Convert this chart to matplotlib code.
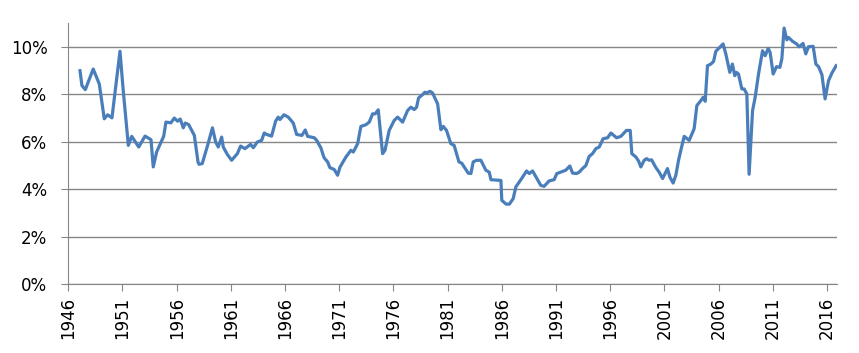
import matplotlib
import matplotlib.pyplot as plt
import matplotlib.ticker as mtick

matplotlib.use("Agg")

# values (year as decimal, rate in %)
years = [
    1947.08, 1947.26, 1947.57, 1948.3, 1948.86, 1949.32, 1949.63, 1950.03, 1950.77, 1951.07,
    1951.54, 1951.85, 1952.5, 1953.08, 1953.63, 1953.84, 1954.15, 1954.8, 1955.01, 1955.47,
    1955.78, 1956.09, 1956.33, 1956.61, 1956.8, 1957.1, 1957.63, 1957.97, 1958.06, 1958.36,
    1958.9, 1959.3, 1959.6, 1959.84, 1960.15, 1960.3, 1960.67, 1961.07, 1961.6, 1961.9,
    1962.3, 1962.82, 1963.07, 1963.44, 1963.84, 1964.08, 1964.3, 1964.76, 1965.13, 1965.37,
    1965.53, 1965.9, 1966.3, 1966.76, 1967.07, 1967.56, 1967.87, 1968.08, 1968.7, 1968.92,
    1969.3, 1969.6, 1969.93, 1970.14, 1970.54, 1970.85, 1971.07, 1971.62, 1972.08, 1972.3,
    1972.7, 1973.0, 1973.46, 1973.77, 1974.08, 1974.32, 1974.6, 1975.0, 1975.22, 1975.61,
    1976.07, 1976.39, 1976.85, 1977.31, 1977.61, 1977.92, 1978.14, 1978.32, 1978.69, 1978.9,
    1979.09, 1979.37, 1979.61, 1980.08, 1980.38, 1980.6, 1980.9, 1981.3, 1981.6, 1981.92,
    1982.05, 1982.3, 1982.9, 1983.15, 1983.36, 1983.67, 1984.07, 1984.53, 1984.84, 1985.0,
    1985.92, 1986.0, 1986.4, 1986.7, 1987.05, 1987.3, 1987.76, 1988.29, 1988.53, 1988.84,
    1989.3, 1989.6, 1989.9, 1990.37, 1990.83, 1991.08, 1991.61, 1991.9, 1992.28, 1992.53,
    1992.9, 1993.14, 1993.45, 1993.76, 1994.06, 1994.37, 1994.68, 1994.99, 1995.35, 1995.76,
    1996.07, 1996.59, 1996.99, 1997.5, 1997.85, 1998.0, 1998.37, 1998.62, 1998.83, 1999.14,
    1999.36, 1999.6, 1999.82, 2000.22, 2000.52, 2000.84, 2001.29, 2001.51, 2001.81, 2002.06,
    2002.31, 2002.52, 2002.83, 2003.29, 2003.75, 2004.0, 2004.37, 2004.58, 2004.77, 2004.98,
    2005.29, 2005.54, 2005.75, 2006.06, 2006.42, 2006.67, 2007.04, 2007.28, 2007.5, 2007.65,
    2007.84, 2008.15, 2008.36, 2008.61, 2008.82, 2009.14, 2009.38, 2009.69, 2010.06, 2010.3,
    2010.58, 2010.76, 2011.04, 2011.35, 2011.66, 2011.84, 2012.05, 2012.3, 2012.46, 2012.83,
    2013.2, 2013.44, 2013.8, 2014.05, 2014.3, 2014.73, 2014.98, 2015.23, 2015.54, 2015.83,
    2016.15, 2016.45, 2016.85,
]
rates = [
    9.0, 8.37, 8.2, 9.07, 8.44, 6.97, 7.14, 7.01, 9.82, 8.16,
    5.85, 6.23, 5.78, 6.24, 6.09, 4.94, 5.57, 6.23, 6.83, 6.8,
    7.0, 6.87, 6.96, 6.59, 6.79, 6.73, 6.27, 5.15, 5.05, 5.08,
    5.92, 6.59, 5.99, 5.78, 6.2, 5.78, 5.47, 5.22, 5.5, 5.82,
    5.71, 5.89, 5.75, 5.99, 6.06, 6.37, 6.31, 6.24, 6.87, 7.04,
    6.94, 7.14, 7.04, 6.79, 6.31, 6.27, 6.5, 6.23, 6.17, 6.06,
    5.75, 5.33, 5.15, 4.91, 4.83, 4.59, 4.93, 5.36, 5.64, 5.57,
    5.92, 6.65, 6.72, 6.83, 7.18, 7.18, 7.35, 5.5, 5.64, 6.48,
    6.9, 7.04, 6.83, 7.32, 7.46, 7.36, 7.46, 7.85, 7.99, 8.09,
    8.06, 8.13, 8.06, 7.6, 6.51, 6.65, 6.48, 5.92, 5.85, 5.36,
    5.15, 5.1, 4.68, 4.66, 5.15, 5.22, 5.22, 4.8, 4.72, 4.4,
    4.37, 3.53, 3.37, 3.37, 3.6, 4.1, 4.4, 4.77, 4.66, 4.77,
    4.4, 4.16, 4.12, 4.35, 4.4, 4.66, 4.75, 4.8, 4.98, 4.68,
    4.66, 4.72, 4.87, 5.0, 5.38, 5.5, 5.71, 5.78, 6.13, 6.17,
    6.37, 6.17, 6.23, 6.48, 6.48, 5.5, 5.36, 5.19, 4.94, 5.22,
    5.29, 5.22, 5.24, 4.91, 4.72, 4.45, 4.87, 4.51, 4.26, 4.59,
    5.22, 5.64, 6.23, 6.06, 6.55, 7.53, 7.74, 7.88, 7.71, 9.21,
    9.28, 9.39, 9.82, 9.96, 10.13, 9.71, 8.93, 9.28, 8.79, 8.93,
    8.86, 8.23, 8.23, 8.02, 4.63, 7.32, 7.88, 8.86, 9.84, 9.63,
    9.94, 9.77, 8.86, 9.17, 9.14, 9.5, 10.8, 10.3, 10.4, 10.24,
    10.13, 10.01, 10.15, 9.71, 10.01, 10.03, 9.28, 9.17, 8.83, 7.81,
    8.58, 8.89, 9.21,
]
tick_years = list(range(1946, 2017, 5))

fig = plt.figure(figsize=(8.59, 3.53), dpi=100)
ax = fig.add_axes([0.0795, 0.1955, 0.8945, 0.7385])

ax.plot(years, [r / 100 for r in rates], color="#4A7EBB", linewidth=2.3)

ax.set_xlim(1946, 2016.9)
ax.set_ylim(0, 0.11)
ax.set_xticks(tick_years)
ax.set_xticklabels([str(t) for t in tick_years], rotation=90)
ax.set_yticks([0, 0.02, 0.04, 0.06, 0.08, 0.10])
ax.yaxis.set_major_formatter(mtick.PercentFormatter(1.0, decimals=0))

ax.grid(axis="y", color="#868686", linewidth=1)
ax.set_axisbelow(True)
for side in ["top", "right"]:
    ax.spines[side].set_visible(False)
for side in ["left", "bottom"]:
    ax.spines[side].set_color("#868686")
ax.tick_params(axis="both", colors="#868686", labelcolor="black", labelsize=12, length=5)
ax.tick_params(axis="y", pad=10)
ax.tick_params(axis="x", pad=4)

fig.savefig("out.png", dpi=100)
